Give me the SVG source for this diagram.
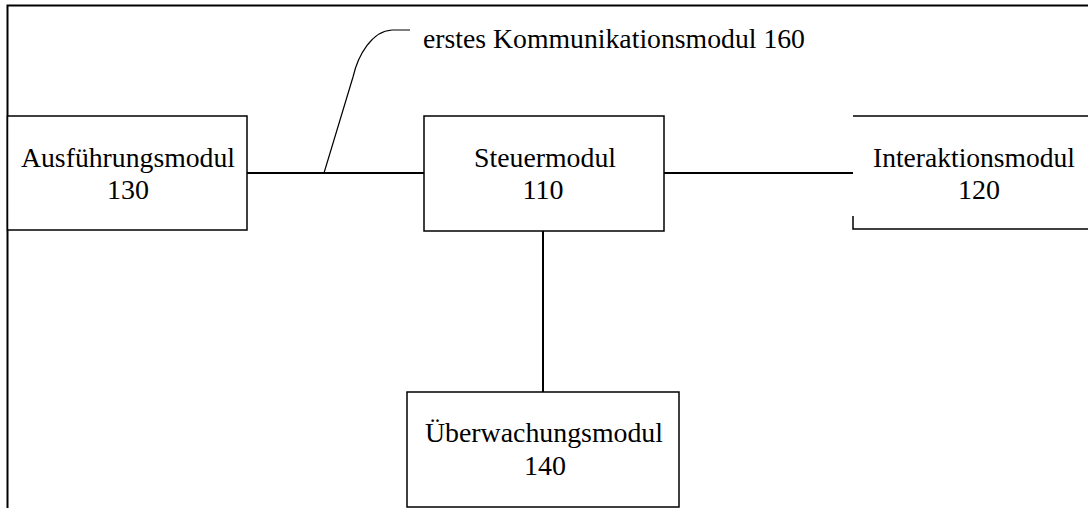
<svg xmlns="http://www.w3.org/2000/svg" width="1088" height="508" viewBox="0 0 1088 508">
<style>
.frame{fill:none;stroke:#000;stroke-width:2}
.box{fill:#fff;stroke:#000;stroke-width:1.5}
.edge{fill:none;stroke:#000;stroke-width:2}
.lead{fill:none;stroke:#000;stroke-width:1.2}
.t{font-family:'Liberation Serif', 'Times New Roman', serif;font-size:28px;fill:#000}
.c{text-anchor:middle}
</style>
<rect width="1088" height="508" fill="#fff"/>
<g id="frame">
<path class="frame" d="M7.5,508 V5.5 H1088"/>
</g>
<g id="connectors">
<line class="edge" x1="247" y1="173" x2="424" y2="173"/>
<line class="edge" x1="664" y1="173" x2="853" y2="173"/>
<line class="edge" x1="543" y1="231" x2="543" y2="392"/>
<path class="lead" d="M324,173 L353,77 C358,55 372,31 392,30 L410,30"/>
</g>
<g id="label160">
<text class="t" x="423" y="48" textLength="382" lengthAdjust="spacingAndGlyphs">erstes Kommunikationsmodul 160</text>
</g>
<g id="node130">
<rect class="box" x="7.5" y="116" width="239.5" height="114"/>
<text class="t c" x="128" y="167" textLength="214" lengthAdjust="spacingAndGlyphs">Ausführungsmodul</text>
<text class="t c" x="128" y="199">130</text>
</g>
<g id="node110">
<rect class="box" x="424" y="116" width="240" height="115"/>
<text class="t c" x="545" y="167" textLength="142" lengthAdjust="spacingAndGlyphs">Steuermodul</text>
<text class="t c" x="543" y="199">110</text>
</g>
<g id="node120">
<path class="box" d="M853,116 H1088 M853,216 V229 H1088"/>
<text class="t c" x="974" y="167" textLength="202" lengthAdjust="spacingAndGlyphs">Interaktionsmodul</text>
<text class="t c" x="979" y="199">120</text>
</g>
<g id="node140">
<rect class="box" x="407" y="392" width="272" height="115"/>
<text class="t c" x="544" y="442" textLength="238" lengthAdjust="spacingAndGlyphs">Überwachungsmodul</text>
<text class="t c" x="545" y="475">140</text>
</g>
</svg>
